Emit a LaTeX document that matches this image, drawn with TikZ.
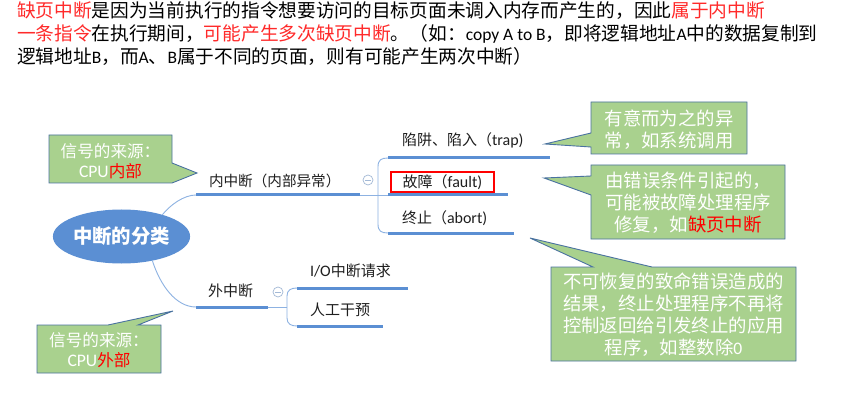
\documentclass[tikz,border=0pt]{standalone}
\usepackage{fontspec}
\setmainfont{Noto Sans CJK SC}
\newfontfamily\lat{Carlito}
\usetikzlibrary{shapes.geometric}
\definecolor{bluemain}{HTML}{5B8FD3}
\definecolor{bluethin}{HTML}{8DB2E2}
\definecolor{calfill}{HTML}{A9D18E}
\definecolor{calborder}{HTML}{4A72A0}
\definecolor{redtxt}{HTML}{FF2A2A}
\definecolor{foldgray}{HTML}{A3B9D6}
\newcommand{\LatA}[1]{{\lat\fontsize{17.5}{20}\selectfont #1}}
\newcommand{\LatB}[1]{{\lat\fontsize{16}{18}\selectfont #1}}
\newcommand{\LatC}[1]{{\lat\fontsize{17.6}{20}\selectfont #1}}
\begin{document}
\begin{tikzpicture}[x=1pt,y=-1pt,
  every node/.style={inner sep=0pt, outer sep=0pt},
  toptext/.style={anchor=west, font=\fontsize{18.7}{23}\selectfont, text=black, text height=0.8em, text depth=0.2em},
  branchlbl/.style={anchor=west, font=\fontsize{14.6}{18}\selectfont, text=black!88, text height=0.8em, text depth=0.2em},
  uline/.style={draw=bluemain, line width=3pt},
  thinlink/.style={draw=bluethin, line width=0.9pt},
  calloutbg/.style={fill=calfill, draw=calborder, line width=0.9pt, line join=miter},
  callouttxt/.style={align=center, text=white, font=\fontsize{18.4}{22}\selectfont},
  callouttxtS/.style={align=center, text=white, font=\fontsize{16.6}{20.5}\selectfont},
  foldmark/.style={circle, draw=foldgray, line width=0.7pt, minimum size=10pt, fill=white,
    path picture={\draw[foldgray, line width=0.7pt] ([xshift=-2.6pt]path picture bounding box.center) -- ([xshift=2.6pt]path picture bounding box.center);}}
]
\fill[white] (0,0) rectangle (852,401);
\useasboundingbox (0,0) rectangle (852,401);

% ---- top text ----
\node[toptext] (t1) at (17,15) {{\color{redtxt}缺页中断}是因为当前执行的指令想要访问的目标页面未调入内存而产生的，因此{\color{redtxt}属于内中断}};
\node[toptext] (t2) at (17,38) {{\color{redtxt}一条指令}在执行期间，{\color{redtxt}可能产生多次缺页中断}。（如：\LatA{copy A to B}，即将逻辑地址\LatA{A}中的数据复制到};
\node[toptext] (t3) at (17,61) {逻辑地址\LatA{B}，而\LatA{A}、\LatA{B}属于不同的页面，则有可能产生两次中断）};

% ---- callout shapes ----
\path[calloutbg] (49,135) -- (172,135) -- (172,163) -- (197,173) -- (172,183) -- (49,183) -- cycle;
\path[calloutbg] (37,325) -- (108,325) -- (173,311) -- (138,325) -- (161,325) -- (161,373) -- (37,373) -- cycle;
\path[calloutbg] (591,102) -- (747,102) -- (747,154) -- (591,154) -- (591,147) -- (545,144) -- (591,133) -- cycle;
\path[calloutbg] (591,165) -- (785,165) -- (785,239) -- (591,239) -- (591,195) -- (544,178) -- (591,176) -- cycle;
\path[calloutbg] (551,267) -- (593,267) -- (530,238) -- (652,267) -- (796,267) -- (796,361) -- (551,361) -- cycle;

\node[callouttxtS] (c1) at (110.5,161) {信号的来源：\\\LatC{CPU}{\color{red}内部}};
\node[callouttxtS] (c2) at (99,350) {信号的来源：\\\LatC{CPU}{\color{red}外部}};
\node[callouttxt] (c3) at (669,130) {有意而为之的异\\常，如系统调用};
\node[callouttxt] (c4) at (688,203) {由错误条件引起的，\\可能被故障处理程序\\修复，如{\color{red}缺页中断}};
\node[callouttxt] (c5) at (673.5,315) {不可恢复的致命错误造成的\\结果，终止处理程序不再将\\控制返回给引发终止的应用\\程序，如整数除\LatC{0}};

% ---- root ----
\node[ellipse, fill=bluemain, minimum width=133pt, minimum height=54pt, text=white,
      font=\bfseries\fontsize{19.4}{20}\selectfont] (root) at (121.5,236.5) {中断的分类};

% ---- branch: internal ----
\coordinate (u1a) at (196,195);
\coordinate (u1b) at (360,195);
\coordinate (j1) at (378,195);
\node[branchlbl] (n1) at (209,183) {内中断（内部异常）};
\node[foldmark] (m1) at (368,180) {};
\draw[uline] (u1a) -- (u1b);
\draw[thinlink] (root.28) .. controls +(8,-10) and +(-12,0) .. (u1a);

\coordinate (ta) at (388,158); \coordinate (tb) at (550,158);
\coordinate (fa) at (388,195); \coordinate (fb) at (508,195);
\coordinate (aa) at (388,233); \coordinate (ab) at (514,233);
\draw[thinlink] (u1b) -- (fa);
\draw[thinlink] (j1) -- ++(0,-28) .. controls +(0,-7) and +(-7,0) .. (ta);
\draw[thinlink] (j1) -- ++(0,29) .. controls +(0,7) and +(-7,0) .. (aa);
\draw[uline] (ta) -- (tb);
\draw[uline] (fa) -- (fb);
\draw[uline] (aa) -- (ab);
\node[branchlbl, font=\fontsize{15}{18}\selectfont] (trap) at (402,143) {陷阱、陷入（\LatB{trap)}};
\node[font=\fontsize{15}{18}\selectfont, text=black!88, draw=red, line width=1.4pt,
      minimum width=103pt, minimum height=20pt] (fault) at (442.5,182) {故障（\LatB{fault)}};
\node[branchlbl, font=\fontsize{15}{18}\selectfont] (abort) at (402,220) {终止（\LatB{abort)}};

% ---- branch: external ----
\coordinate (u2a) at (196,307);
\coordinate (u2b) at (268,307);
\coordinate (j2) at (287,307);
\node[branchlbl, font=\fontsize{15}{18}\selectfont] (n2) at (208,293) {外中断};
\node[foldmark] (m2) at (278,292) {};
\draw[uline] (u2a) -- (u2b);
\draw[thinlink] (root.-38) .. controls +(8,25) and +(-20,0) .. (u2a);

\coordinate (ia) at (297,288); \coordinate (ib) at (408,288);
\coordinate (ma) at (297,326); \coordinate (mb) at (383,326);
\draw[thinlink] (u2b) -- (j2);
\draw[thinlink] (j2) -- ++(0,-11) .. controls +(0,-6) and +(-6,0) .. (ia);
\draw[thinlink] (j2) -- ++(0,11) .. controls +(0,6) and +(-6,0) .. (ma);
\draw[uline] (ia) -- (ib);
\draw[uline] (ma) -- (mb);
\node[branchlbl, font=\fontsize{15}{18}\selectfont] (io) at (310,273) {\LatB{I/O}中断请求};
\node[branchlbl, font=\fontsize{15}{18}\selectfont] (manual) at (310,312) {人工干预};
\end{tikzpicture}
\end{document}
